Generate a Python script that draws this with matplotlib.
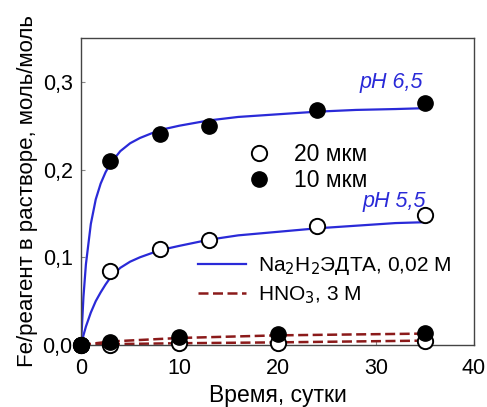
import matplotlib
matplotlib.use("Agg")
import matplotlib.pyplot as plt
from matplotlib.lines import Line2D
from matplotlib.ticker import FuncFormatter

plt.rcParams['font.family'] = ['Liberation Sans', 'DejaVu Sans']

# Measured points
t_edta = [0, 3, 8, 13, 24, 35]
edta_10 = [0.0, 0.210, 0.240, 0.250, 0.268, 0.276]   # pH 6.5, 10 um
edta_20 = [0.0, 0.084, 0.109, 0.120, 0.136, 0.148]   # pH 5.5, 20 um

t_hno3 = [0, 3, 10, 20, 35]
hno3_10 = [0.0, 0.003, 0.009, 0.012, 0.014]
hno3_20 = [0.0, 0.000, 0.002, 0.002, 0.004]

# Fitted curves
t_fit = [0, 0.25, 0.5, 1, 1.5, 2, 2.5, 3, 4, 5, 6, 8, 10, 13, 16, 20, 24, 28, 32, 35]
fit_65 = [0.0, 0.055, 0.092, 0.138, 0.166, 0.184, 0.197, 0.207, 0.221, 0.230, 0.236,
          0.245, 0.250, 0.256, 0.260, 0.263, 0.266, 0.268, 0.269, 0.270]
fit_55 = [0.0, 0.011, 0.021, 0.037, 0.050, 0.060, 0.069, 0.077, 0.088, 0.095, 0.100,
          0.108, 0.113, 0.120, 0.125, 0.129, 0.133, 0.136, 0.139, 0.140]
t_dash = [0, 3, 10, 20, 35]
dash_10 = [0.0, 0.004, 0.008, 0.011, 0.013]
dash_20 = [0.0, 0.001, 0.002, 0.003, 0.005]

blue = '#2a2ad8'
red = '#8b1a1a'

fig = plt.figure(figsize=(4.87, 4.07), dpi=100)
ax = fig.add_axes([81/487, 1-345/407, (474-81)/487, (345-38)/407])

ax.plot(t_fit, fit_65, color=blue, lw=1.6, zorder=2)
ax.plot(t_fit, fit_55, color=blue, lw=1.6, zorder=2)
ax.plot(t_dash, dash_10, color=red, lw=1.8, ls=(0, (4, 1.8)), zorder=2)
ax.plot(t_dash, dash_20, color=red, lw=1.8, ls=(0, (4, 1.8)), zorder=2)

ms = 11
ax.plot(t_edta, edta_20, 'o', ms=ms, mfc='white', mec='black', mew=1.4, zorder=3, clip_on=False)
ax.plot(t_hno3, hno3_20, 'o', ms=ms, mfc='white', mec='black', mew=1.4, zorder=3, clip_on=False)
ax.plot(t_edta, edta_10, 'o', ms=ms, mfc='black', mec='black', zorder=4, clip_on=False)
ax.plot(t_hno3, hno3_10, 'o', ms=ms, mfc='black', mec='black', zorder=4, clip_on=False)

ax.set_xlim(0, 40)
ax.set_ylim(0, 0.35)
ax.set_xticks([0, 10, 20, 30, 40])
ax.set_yticks([0, 0.1, 0.2, 0.3])
ax.yaxis.set_major_formatter(FuncFormatter(lambda v, p: f"{v:.1f}".replace('.', ',')))
ax.tick_params(direction='in', length=3, width=0.8, color='#888888', labelsize=15.5)
ax.tick_params(axis='x', pad=9)
ax.tick_params(axis='y', pad=6)
for s in ax.spines.values():
    s.set_color('#444444')
    s.set_linewidth(1.0)

ax.set_xlabel('Время, сутки', fontsize=16.5, labelpad=4)
ax.set_ylabel('Fe/реагент в растворе, моль/моль', fontsize=16, labelpad=3)

ax.text(31.55, 0.299, 'pH 6,5', color=blue, style='italic', fontsize=15.5, ha='center', va='center')
ax.text(31.9, 0.164, 'pH 5,5', color=blue, style='italic', fontsize=15.5, ha='center', va='center')

# Marker legend
h1 = Line2D([], [], ls='none', marker='o', ms=ms, mfc='white', mec='black', mew=1.4)
h2 = Line2D([], [], ls='none', marker='o', ms=ms, mfc='black', mec='black')
leg1 = ax.legend([h1, h2], ['20 мкм', '10 мкм'], loc='center left', bbox_to_anchor=(0.395, 0.578),
                 frameon=False, fontsize=16.5, handletextpad=1.0, labelspacing=0.12,
                 handlelength=1.0, borderpad=0)
ax.add_artist(leg1)

h3 = Line2D([], [], color=blue, lw=1.6)
h4 = Line2D([], [], color=red, lw=1.8, ls=(0, (4, 1.8)))
leg2 = ax.legend([h3, h4], ['Na$_2$H$_2$ЭДТА, 0,02 М', 'HNO$_3$, 3 М'], loc='center left',
                 bbox_to_anchor=(0.272, 0.21), frameon=False, fontsize=15,
                 handlelength=2.3, handletextpad=0.55, labelspacing=0.35, borderpad=0)

fig.savefig('out.png', dpi=100)
